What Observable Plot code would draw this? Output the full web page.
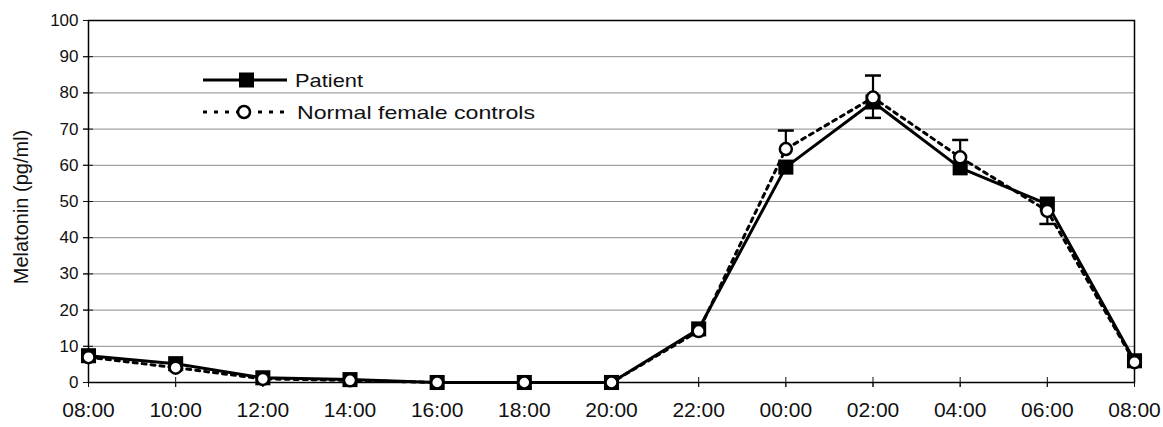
<!DOCTYPE html>
<html>
<head>
<meta charset="utf-8">
<script src="https://cdn.jsdelivr.net/npm/d3@7"></script>
<script src="https://cdn.jsdelivr.net/npm/@observablehq/plot@0.6"></script>
<style>
  html, body { margin: 0; padding: 0; background: white; }
  #wrap { position: relative; width: 1163px; height: 427px; font-family: "Liberation Sans", Arial, sans-serif; }
  #ytitle { position: absolute; left: 21px; top: 207px; transform: translate(-50%, -50%) rotate(-90deg); font-size: 20px; white-space: nowrap; color: #111; }
  #legend { position: absolute; left: 190px; top: 60px; }
</style>
</head>
<body>
<div id="wrap">
  <div id="chart"></div>
  <div id="ytitle">Melatonin (pg/ml)</div>
  <svg id="legend" width="380" height="75"></svg>
</div>
<script>
// ---- data ----
const times = ["08:00","10:00","12:00","14:00","16:00","18:00","20:00","22:00","00:00","02:00","04:00","06:00","08:00"];
const patient  = [7.4, 5.2, 1.3, 0.8, 0, 0, 0, 14.8, 59.5, 77.5, 59.3, 49.3, 6.0];
const controls = [7.0, 4.1, 1.0, 0.6, 0, 0, 0, 14.2, 64.5, 78.7, 62.2, 47.4, 5.6];
const errHigh  = [null, null, null, null, null, null, null, null, 69.6, 84.8, 67.0, null, null];
const errLow   = [null, null, null, null, null, null, null, null, null, 73.1, null, 43.8, null];
const yTicks = [0,10,20,30,40,50,60,70,80,90,100];
const gridVals = [10,20,30,40,50,60,70,80,90];
const seriesNames = ["Patient", "Normal female controls"];

const idx = times.map((_, i) => i);
const hiIdx = idx.filter(i => errHigh[i] != null);
const loIdx = idx.filter(i => errLow[i] != null);

const capSymbol = {
  draw(context, size) {
    const w = Math.sqrt(size / Math.PI);
    context.moveTo(-w, 0);
    context.lineTo(w, 0);
  }
};

const chart = Plot.plot({
  width: 1163,
  height: 427,
  marginLeft: 88,
  marginRight: 29,
  marginTop: 20,
  marginBottom: 45,
  style: { fontFamily: "Liberation Sans, Arial, sans-serif", background: "white", color: "#111" },
  x: { domain: [0, 12], label: null },
  y: { domain: [0, 100], label: null },
  marks: [
    Plot.ruleY(gridVals, { stroke: "#8c8c8c", strokeWidth: 1 }),
    Plot.axisY({ ticks: yTicks, tickSize: 5, tickPadding: 5, fontSize: 17, label: null }),
    Plot.axisY({ ticks: yTicks, tickSize: 10, dx: 5, tickFormat: () => "", label: null }),
    Plot.axisX({ ticks: idx, tickSize: 5, tickPadding: 15, fontSize: 21, tickFormat: i => times[i], label: null }),
    Plot.axisX({ ticks: idx, tickSize: 10, dy: -5, tickFormat: () => "", label: null }),
    Plot.frame({ stroke: "black", strokeWidth: 1.5 }),
    // error bars (controls)
    Plot.ruleX(hiIdx, { x: i => i, y1: i => controls[i], y2: i => errHigh[i], stroke: "black", strokeWidth: 2.2 }),
    Plot.ruleX(loIdx, { x: i => i, y1: i => controls[i], y2: i => errLow[i], stroke: "black", strokeWidth: 2.2 }),
    Plot.dot(hiIdx, { x: i => i, y: i => errHigh[i], symbol: capSymbol, r: 8, fill: "none", stroke: "black", strokeWidth: 2.5 }),
    Plot.dot(loIdx, { x: i => i, y: i => errLow[i], symbol: capSymbol, r: 8, fill: "none", stroke: "black", strokeWidth: 2.5 }),
    // patient
    Plot.line(idx, { x: i => i, y: i => patient[i], stroke: "black", strokeWidth: 3 }),
    Plot.dot(idx, { x: i => i, y: i => patient[i], symbol: "square", r: 8.5, fill: "black" }),
    // controls
    Plot.line(idx, { x: i => i, y: i => controls[i], stroke: "black", strokeWidth: 3, strokeDasharray: "4,5" }),
    Plot.dot(idx, { x: i => i, y: i => controls[i], symbol: "circle", r: 6, fill: "white", stroke: "black", strokeWidth: 2.5 })
  ]
});
document.getElementById("chart").appendChild(chart);

// ---- legend ----
const lg = d3.select("#legend");
// Patient row
lg.append("line").attr("x1", 13).attr("x2", 97).attr("y1", 20).attr("y2", 20).attr("stroke", "black").attr("stroke-width", 3);
lg.append("rect").attr("x", 49).attr("y", 12.5).attr("width", 15).attr("height", 15).attr("fill", "black");
lg.append("text").attr("x", 105).attr("y", 27).attr("font-size", 19).attr("textLength", 68).attr("lengthAdjust", "spacingAndGlyphs")
  .attr("font-family", "Liberation Sans, Arial, sans-serif").attr("fill", "#111").text(seriesNames[0]);
// Controls row
lg.append("line").attr("x1", 13).attr("x2", 100).attr("y1", 52).attr("y2", 52).attr("stroke", "black").attr("stroke-width", 3).attr("stroke-dasharray", "4,7");
lg.append("circle").attr("cx", 54).attr("cy", 52).attr("r", 6).attr("fill", "white").attr("stroke", "black").attr("stroke-width", 2.5);
lg.append("text").attr("x", 107).attr("y", 59).attr("font-size", 19).attr("textLength", 238).attr("lengthAdjust", "spacingAndGlyphs")
  .attr("font-family", "Liberation Sans, Arial, sans-serif").attr("fill", "#111").text(seriesNames[1]);
</script>
</body>
</html>
